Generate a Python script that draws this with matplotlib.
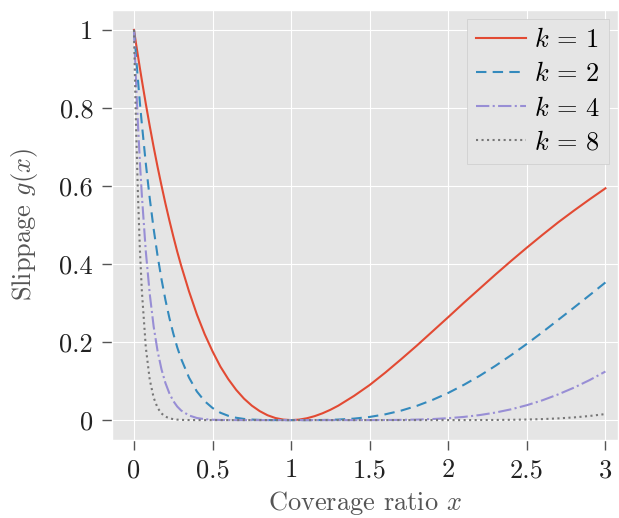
import matplotlib
matplotlib.use("Agg")
import matplotlib.pyplot as plt
from matplotlib.ticker import FormatStrFormatter

plt.style.use("ggplot")
plt.rcParams["font.family"] = "serif"
plt.rcParams["font.serif"] = ["cmr10", "DejaVu Serif"]
plt.rcParams["mathtext.fontset"] = "cm"
plt.rcParams["axes.formatter.use_mathtext"] = True

# coverage ratio samples (denser near zero where the curves drop fast)
x = [0, 0.00625, 0.0125, 0.025, 0.0375, 0.05, 0.075, 0.1, 0.125, 0.15, 0.175, 0.2,
     0.225, 0.25, 0.275, 0.3, 0.35, 0.4, 0.45, 0.5, 0.55, 0.6, 0.65, 0.7, 0.75,
     0.8, 0.85, 0.9, 0.95, 1.0, 1.05, 1.1, 1.15, 1.2, 1.25, 1.3, 1.4, 1.5, 1.6,
     1.7, 1.8, 1.9, 2.0, 2.1, 2.2, 2.3, 2.4, 2.5, 2.6, 2.7, 2.8, 2.9, 3.0]

g_k1 = [1, 0.983, 0.966, 0.934, 0.902, 0.871, 0.811, 0.754, 0.700, 0.649, 0.601, 0.555,
        0.512, 0.471, 0.432, 0.396, 0.330, 0.271, 0.220, 0.176, 0.137, 0.105, 0.0776, 0.055, 0.037,
        0.023, 0.0124, 0.0053, 0.0013, 0, 0.0012, 0.0047, 0.0102, 0.0175, 0.0265, 0.037, 0.062, 0.090, 0.122,
        0.156, 0.191, 0.2275, 0.264, 0.301, 0.337, 0.373, 0.408, 0.442, 0.475,
        0.507, 0.537, 0.566, 0.594]
g_k2 = [1, 0.9665, 0.934, 0.872, 0.813, 0.759, 0.658, 0.569, 0.490, 0.421, 0.361, 0.308,
        0.262, 0.222, 0.1866, 0.157, 0.109, 0.0734, 0.0484, 0.031, 0.0188, 0.011, 0.0060, 0.003, 0.00137,
        0.0005, 0.00015, 0.00003, 0, 0, 0, 0.00002, 0.0001, 0.0003, 0.0007, 0.0014, 0.0038, 0.0081, 0.0149,
        0.0243, 0.0365, 0.0518, 0.0697, 0.0906, 0.1136, 0.1391, 0.1665, 0.1954, 0.2256,
        0.2570, 0.2884, 0.3204, 0.3528]
g_k4 = [1, 0.934, 0.872, 0.760, 0.661, 0.576, 0.433, 0.324, 0.240, 0.177, 0.130, 0.095,
        0.0687, 0.049, 0.0348, 0.0246, 0.0119, 0.0054, 0.0023, 0.001, 0.00035, 0.0001, 0.00004, 0, 0,
        0, 0, 0, 0, 0, 0, 0, 0, 0, 0, 0, 0.00001, 0.00007, 0.0002,
        0.0006, 0.0013, 0.0027, 0.0049, 0.0082, 0.0129, 0.0193, 0.0277, 0.0382, 0.0509,
        0.0660, 0.0832, 0.1027, 0.1245]
g_k8 = [1, 0.8726, 0.761, 0.579, 0.437, 0.331, 0.187, 0.104, 0.0576, 0.0315, 0.0170, 0.009,
        0.0047, 0.0024, 0.0012, 0.0006, 0.00014, 0.00003, 0, 0, 0, 0, 0, 0, 0,
        0, 0, 0, 0, 0, 0, 0, 0, 0, 0, 0, 0, 0, 0,
        0, 0, 0, 0, 0, 0.0002, 0.0004, 0.0008, 0.0015, 0.0026,
        0.0044, 0.0069, 0.0106, 0.0155]

series = [(r"$k \,=\, 1$", g_k1, "-"), (r"$k \,=\, 2$", g_k2, (0, (5, 3))),
          (r"$k \,=\, 4$", g_k4, "-."), (r"$k \,=\, 8$", g_k8, ":")]

fig = plt.figure(figsize=(6.19, 5.18), dpi=100)
ax = fig.add_axes([112 / 619, 78 / 518, 506 / 619, 430 / 518])

for label, y, ls in series:
    ax.plot(x, y, linestyle=ls, linewidth=1.5, label=label)

ax.set_xlim(-0.14, 3.08)
ax.set_ylim(-0.051, 1.051)
ax.set_xticks([0, 0.5, 1, 1.5, 2, 2.5, 3])
ax.set_yticks([0, 0.2, 0.4, 0.6, 0.8, 1])
ax.xaxis.set_major_formatter(FormatStrFormatter("%g"))
ax.yaxis.set_major_formatter(FormatStrFormatter("%g"))
ax.tick_params(labelsize=19, labelcolor="#222222", length=7.5, width=1, pad=6, color="#555555")

ax.set_xlabel("Coverage ratio $x$", fontsize=19, color="#555555", labelpad=5)
ax.set_ylabel("Slippage $g(x)$", fontsize=19, color="#555555", labelpad=14)

leg = ax.legend(loc="upper right", fontsize=19, fancybox=False, framealpha=1,
                facecolor="#E5E5E5", edgecolor="#CCCCCC", handlelength=1.9,
                labelspacing=0.38, borderpad=0.35, handletextpad=0.3,
                borderaxespad=0.35)

fig.savefig("out.png", dpi=100)
